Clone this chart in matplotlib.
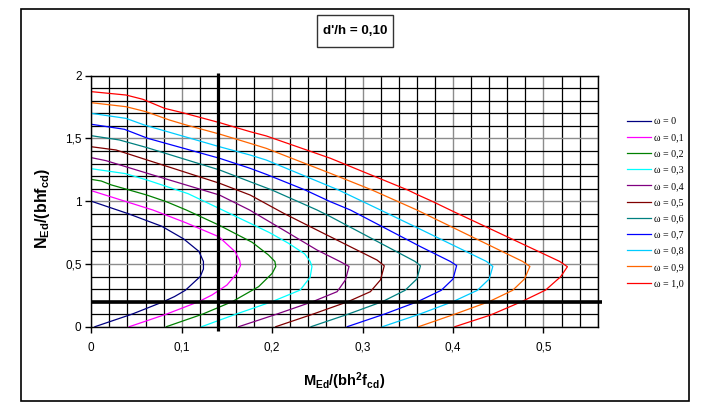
import matplotlib
matplotlib.use("Agg")
import matplotlib.pyplot as plt
from matplotlib.patches import Rectangle

plt.rcParams['font.family'] = 'Liberation Sans'
plt.rcParams['mathtext.fontset'] = 'custom'
plt.rcParams['mathtext.rm'] = 'Liberation Sans'
plt.rcParams['mathtext.it'] = 'Liberation Sans:italic'
plt.rcParams['mathtext.bf'] = 'Liberation Sans:bold'

# data (M = MEd/(bh^2 fcd), N = NEd/(bhfcd))
m_w00 = [0.004, 0.045, 0.080, 0.092, 0.104, 0.1205, 0.124, 0.124, 0.119, 0.102, 0.078, 0.041, 0.0]
n_w00 = [0.0, 0.10, 0.20, 0.24, 0.29, 0.40, 0.46, 0.52, 0.60, 0.70, 0.80, 0.90, 1.0]

m_w01 = [0.042, 0.083, 0.119, 0.1335, 0.150, 0.161, 0.165, 0.164, 0.159, 0.141, 0.104, 0.068, 0.0]
n_w01 = [0.0, 0.10, 0.20, 0.253, 0.332, 0.425, 0.487, 0.53, 0.598, 0.717, 0.83, 0.93, 1.084]

m_w02 = [0.083, 0.123, 0.156, 0.185, 0.200, 0.204, 0.203, 0.196, 0.178, 0.141, 0.105, 0.083, 0.061, 0.022, 0.011, 0.0]
n_w02 = [0.0, 0.10, 0.20, 0.319, 0.425, 0.48, 0.52, 0.571, 0.672, 0.81, 0.93, 0.996, 1.05, 1.13, 1.161, 1.174]

m_w03 = [0.122, 0.160, 0.200, 0.231, 0.242, 0.244, 0.242, 0.236, 0.218, 0.197, 0.1757, 0.145, 0.107, 0.062, 0.0375, 0.0]
n_w03 = [0.0, 0.10, 0.20, 0.292, 0.394, 0.48, 0.52, 0.58, 0.665, 0.75, 0.824, 0.93, 1.06, 1.168, 1.22, 1.259]

m_w04 = [0.163, 0.205, 0.245, 0.2718, 0.281, 0.285, 0.2754, 0.2496, 0.2126, 0.175, 0.1418, 0.068, 0.0163, 0.0]
n_w04 = [0.0, 0.10, 0.20, 0.279, 0.372, 0.48, 0.518, 0.611, 0.77, 0.93, 1.049, 1.209, 1.323, 1.347]

m_w05 = [0.204, 0.245, 0.284, 0.3086, 0.3197, 0.324, 0.316, 0.2865, 0.2496, 0.2126, 0.1757, 0.1418, 0.0274, 0.0]
n_w05 = [0.0, 0.10, 0.20, 0.279, 0.372, 0.485, 0.531, 0.637, 0.77, 0.904, 1.049, 1.143, 1.408, 1.434]

m_w06 = [0.243, 0.284, 0.322, 0.347, 0.360, 0.364, 0.358, 0.2644, 0.2496, 0.1998, 0.1757, 0.1418, 0.0606, 0.031, 0.0]
n_w06 = [0.0, 0.10, 0.20, 0.29, 0.38, 0.485, 0.52, 0.877, 0.93, 1.089, 1.155, 1.249, 1.429, 1.488, 1.522]

m_w07 = [0.283, 0.324, 0.361, 0.387, 0.400, 0.404, 0.397, 0.364, 0.2865, 0.2644, 0.2366, 0.1935, 0.1756, 0.1418, 0.0624, 0.0366, 0.0]
n_w07 = [0.0, 0.10, 0.20, 0.29, 0.38, 0.487, 0.52, 0.638, 0.93, 0.996, 1.089, 1.214, 1.262, 1.342, 1.501, 1.573, 1.613]

m_w08 = [0.322, 0.363, 0.400, 0.427, 0.440, 0.444, 0.437, 0.364, 0.3197, 0.2735, 0.2644, 0.1935, 0.1756, 0.1418, 0.0587, 0.0384, 0.0]
n_w08 = [0.0, 0.10, 0.20, 0.29, 0.38, 0.48, 0.52, 0.776, 0.93, 1.089, 1.116, 1.328, 1.368, 1.434, 1.607, 1.660, 1.700]

m_w09 = [0.362, 0.402, 0.440, 0.466, 0.479, 0.485, 0.477, 0.364, 0.36, 0.3105, 0.2644, 0.1935, 0.1756, 0.1418, 0.105, 0.0864, 0.0606, 0.0384, 0.0]
n_w09 = [0.0, 0.10, 0.20, 0.29, 0.38, 0.48, 0.52, 0.916, 0.93, 1.089, 1.222, 1.421, 1.461, 1.535, 1.607, 1.647, 1.713, 1.753, 1.785]

m_w10 = [0.402, 0.4415, 0.476, 0.5024, 0.519, 0.5265, 0.518, 0.4009, 0.3755, 0.364, 0.350, 0.2644, 0.1935, 0.1756, 0.1418, 0.101, 0.081, 0.057, 0.0384, 0.0]
n_w10 = [0.0, 0.093, 0.20, 0.292, 0.398, 0.478, 0.52, 0.916, 1.004, 1.041, 1.089, 1.342, 1.52, 1.554, 1.626, 1.705, 1.740, 1.812, 1.846, 1.873]

labels = ['ω = 0', 'ω = 0,1', 'ω = 0,2', 'ω = 0,3', 'ω = 0,4', 'ω = 0,5',
          'ω = 0,6', 'ω = 0,7', 'ω = 0,8', 'ω = 0,9', 'ω = 1,0']
colors = ['#000080', '#FF00FF', '#008000', '#00FFFF', '#800080', '#800000',
          '#008080', '#0000FF', '#00CCFF', '#FF6600', '#FF0000']

# reference lines (thick black)
ref_v_m = [0.14, 0.14]
ref_v_n = [-0.032, 2.024]
ref_h_m = [0.0, 0.565]
ref_h_n = [0.2, 0.2]

xticks = [0, 0.1, 0.2, 0.3, 0.4, 0.5]
xticklabels = ['0', '0,1', '0,2', '0,3', '0,4', '0,5']
yticks = [0, 0.5, 1.0, 1.5, 2.0]
yticklabels = ['0', '0,5', '1', '1,5', '2']

curves = [(m_w00, n_w00), (m_w01, n_w01), (m_w02, n_w02), (m_w03, n_w03),
          (m_w04, n_w04), (m_w05, n_w05), (m_w06, n_w06), (m_w07, n_w07),
          (m_w08, n_w08), (m_w09, n_w09), (m_w10, n_w10)]

W, H = 701, 413
fig = plt.figure(figsize=(W / 100, H / 100), dpi=100)
ax = fig.add_axes([91.3 / W, 1 - 326.7 / H, (597.7 - 91.3) / W, (326.7 - 75.7) / H])

ax.set_xlim(0, 0.56)
ax.set_ylim(0, 2)
ax.set_xticks([i * 0.02 for i in range(29)], minor=True)
ax.set_yticks([i * 0.1 for i in range(21)], minor=True)
ax.set_xticks(xticks)
ax.set_xticklabels(xticklabels)
ax.set_yticks(yticks)
ax.set_yticklabels(yticklabels)
ax.tick_params(which='minor', length=0)
ax.tick_params(which='major', length=4, width=1, direction='out', labelsize=8.5, pad=3)
ax.tick_params(axis='x', pad=7)
ax.grid(which='minor', color='black', lw=0.9)
ax.grid(which='major', color='#8c8c8c', lw=1.0)
ax.set_axisbelow(True)
for s in ax.spines.values():
    s.set_color('black')
    s.set_linewidth(1.0)

for (m, n), c, lab in zip(curves, colors, labels):
    ax.plot(m, n, color=c, lw=0.9, label=lab)

ax.plot(ref_v_m, ref_v_n, color='black', lw=2.3, clip_on=False, solid_capstyle='butt')
ax.plot(ref_h_m, ref_h_n, color='black', lw=2.6, clip_on=False, solid_capstyle='butt')

ax.set_xlabel(r'$\mathbf{M_{Ed}/(bh^2f_{cd})}$', fontsize=10.5, labelpad=12)
ax.set_ylabel(r'$\mathbf{N_{Ed}/(bhf_{cd})}$', fontsize=11.5, labelpad=4)
ax.yaxis.set_label_coords(-(91.3 - 51.7) / (597.7 - 91.3), 0.47)

handles, labs = ax.get_legend_handles_labels()
fig.legend(handles, labs, loc='upper left', bbox_to_anchor=(626.7 / W, 1 - 117.0 / H),
           frameon=False, prop={'family': 'Liberation Serif', 'size': 7.2},
           handlelength=2.45, handletextpad=0.25, labelspacing=0.72,
           borderpad=0, borderaxespad=0)

# title box
fig.patches.append(Rectangle((316.7 / W, 1 - 46.7 / H), 76 / W, 31.7 / H,
                             transform=fig.transFigure, fc='white', ec='#333333', lw=1.0))
fig.text(354.7 / W, 1 - 31 / H, "d'/h = 0,10", ha='center', va='center',
         fontsize=9.6, fontweight='bold')

# outer frame
fig.patches.append(Rectangle((20.7 / W, 1 - 401 / H), (689 - 20.7) / W, (401 - 8.7) / H,
                             transform=fig.transFigure, fill=False, ec='black', lw=1.2))

fig.savefig('out.png', dpi=100)
